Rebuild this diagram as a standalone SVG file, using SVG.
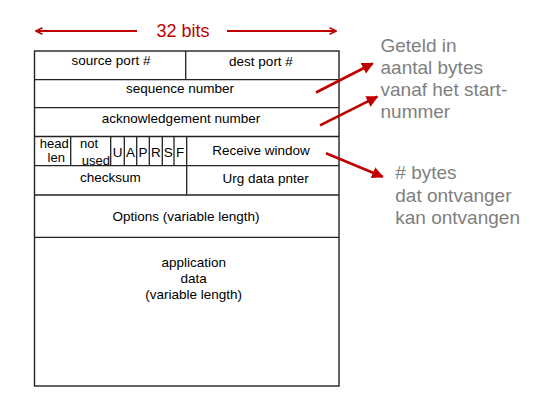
<svg xmlns="http://www.w3.org/2000/svg" width="534" height="406" viewBox="0 0 534 406">
<defs>
<style>
.box{fill:none;stroke:#222;stroke-width:1.4}
.ln{stroke:#222;stroke-width:1.3}
.t{font-family:"Liberation Sans",Arial,sans-serif;font-size:13.5px;fill:#000;text-anchor:middle}
.s{font-size:13px}
.g{font-family:"Liberation Sans",Arial,sans-serif;font-size:19px;fill:#808080}
.red{stroke:#c00000;stroke-width:2.6;fill:none}
.dim{stroke:#c00000;stroke-width:2;fill:none}
</style>
<marker id="ah" viewBox="0 0 10 10" refX="9" refY="5" markerWidth="4.5" markerHeight="4.5" orient="auto" markerUnits="strokeWidth">
<path d="M0,0 L10,5 L0,10 z" fill="#c00000"/>
</marker>
<marker id="open" viewBox="0 0 10 10" refX="9" refY="5" markerWidth="4" markerHeight="4" orient="auto" markerUnits="strokeWidth">
<path d="M1,1 L9,5 L1,9" fill="none" stroke="#c00000" stroke-width="2"/>
</marker>
</defs>
<rect width="534" height="406" fill="#fff"/>
<g id="width-label">
<line class="dim" x1="137" y1="31" x2="36" y2="31" marker-end="url(#open)"/>
<line class="dim" x1="227" y1="31" x2="336" y2="31" marker-end="url(#open)"/>
<text x="183" y="37" font-family="'Liberation Sans',Arial,sans-serif" font-size="18" fill="#c00000" text-anchor="middle">32 bits</text>
</g>
<g id="segment">
<rect class="box" x="34.5" y="51" width="304.5" height="335"/>
<line class="ln" x1="34.5" y1="79.7" x2="339" y2="79.7"/>
<line class="ln" x1="34.5" y1="107.7" x2="339" y2="107.7"/>
<line class="ln" x1="34.5" y1="136.5" x2="339" y2="136.5"/>
<line class="ln" x1="34.5" y1="165.7" x2="339" y2="165.7"/>
<line class="ln" x1="34.5" y1="195" x2="339" y2="195"/>
<line class="ln" x1="34.5" y1="237.3" x2="339" y2="237.3"/>
<line class="ln" x1="185.7" y1="51" x2="185.7" y2="79.7"/>
<line class="ln" x1="186.7" y1="165.7" x2="186.7" y2="195"/>
<line class="ln" x1="70.7" y1="136.5" x2="70.7" y2="165.7"/>
<line class="ln" x1="110.7" y1="136.5" x2="110.7" y2="165.7"/>
<line class="ln" x1="124.3" y1="136.5" x2="124.3" y2="165.7"/>
<line class="ln" x1="136.7" y1="136.5" x2="136.7" y2="165.7"/>
<line class="ln" x1="149.3" y1="136.5" x2="149.3" y2="165.7"/>
<line class="ln" x1="162.3" y1="136.5" x2="162.3" y2="165.7"/>
<line class="ln" x1="174" y1="136.5" x2="174" y2="165.7"/>
<line class="ln" x1="186.7" y1="136.5" x2="186.7" y2="165.7"/>
</g>
<g id="fields">
<text class="t" x="111" y="65">source port #</text>
<text class="t" x="261" y="65.7">dest port #</text>
<text class="t" x="180" y="93.3">sequence number</text>
<text class="t" x="181" y="123.3">acknowledgement number</text>
<text class="t s" x="54.3" y="147.8">head</text>
<text class="t s" x="56.3" y="162">len</text>
<text class="t s" x="89" y="147.5">not</text>
<text class="t s" x="95.8" y="165">used</text>
<text class="t" x="117.5" y="156.7">U</text>
<text class="t" x="130.5" y="156.7">A</text>
<text class="t" x="143" y="156.7">P</text>
<text class="t" x="155.8" y="156.7">R</text>
<text class="t" x="168.2" y="156.7">S</text>
<text class="t" x="180.2" y="156.7">F</text>
<text class="t" x="261" y="154.5">Receive window</text>
<text class="t" x="110.3" y="182">checksum</text>
<text class="t" x="265.7" y="183.3">Urg data pnter</text>
<text class="t" x="186" y="220.7">Options (variable length)</text>
<text class="t" x="193.7" y="266.7">application</text>
<text class="t" x="193.7" y="283">data</text>
<text class="t" x="193.7" y="298.5">(variable length)</text>
</g>
<g id="connectors">
<line class="red" x1="316" y1="92.5" x2="372.7" y2="63.5" marker-end="url(#ah)"/>
<line class="red" x1="320" y1="125.3" x2="377.3" y2="96.7" marker-end="url(#ah)"/>
<line class="red" x1="326" y1="153.3" x2="382.7" y2="176.7" marker-end="url(#ah)"/>
</g>
<g id="note-seq">
<text class="g" x="380.5" y="51.5">Geteld in</text>
<text class="g" x="380.5" y="73.5">aantal bytes</text>
<text class="g" x="380.5" y="95.5">vanaf het start-</text>
<text class="g" x="380.5" y="117.5">nummer</text>
</g>
<g id="note-window">
<text class="g" x="395.3" y="179.3">#  bytes</text>
<text class="g" x="395.3" y="201.5">dat ontvanger</text>
<text class="g" x="395.3" y="223.5">kan ontvangen</text>
</g>
</svg>
